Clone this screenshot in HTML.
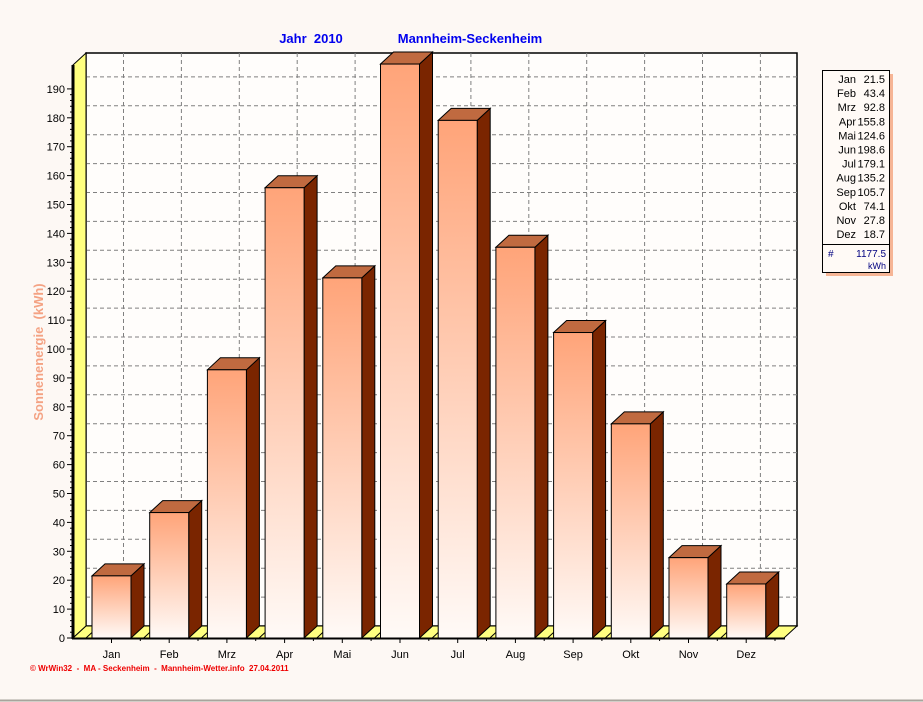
<!DOCTYPE html>
<html><head><meta charset="utf-8"><style>
html,body{margin:0;padding:0;background:#fdf8f4;}
svg{display:block;font-family:"Liberation Sans",sans-serif;}
text{white-space:pre;}
</style></head><body>
<svg id="s" width="923" height="702" xmlns="http://www.w3.org/2000/svg">
<defs>
<linearGradient id="g" x1="0" y1="0" x2="0" y2="1">
<stop offset="0" stop-color="#ffa479"/><stop offset="1" stop-color="#fffaf7"/>
</linearGradient>
</defs>
<rect x="0" y="0" width="923" height="702" fill="#fdf8f4"/>
<line x1="0" y1="700.5" x2="923" y2="700.5" stroke="#a8a49c" stroke-width="2"/>
<text x="311" y="43" font-size="13" font-weight="bold" fill="#0000ee" text-anchor="middle">Jahr  2010</text>
<text x="470" y="43" font-size="13" font-weight="bold" fill="#0000ee" text-anchor="middle">Mannheim-Seckenheim</text>
<text transform="translate(43,352) rotate(-90)" font-size="13" font-weight="bold" fill="#f4a283" text-anchor="middle">Sonnenenergie  (kWh)</text>
<text x="30" y="671" font-size="8" fill="#ee0000" font-weight="bold">© WrWin32  -  MA - Seckenheim  -  Mannheim-Wetter.info  27.04.2011</text>
<g id="plot"></g>
<rect x="826" y="74" width="67" height="202" fill="#f6b595"/>
<rect x="822.5" y="70.5" width="67" height="202" fill="#fffaf6" stroke="#000"/>
<line x1="822" y1="244.5" x2="890" y2="244.5" stroke="#000"/>
<g id="leg" font-size="11" fill="#000"></g>
<text x="828" y="257" font-size="10" fill="#000080">#</text>
<text x="886" y="257" font-size="10" fill="#000080" text-anchor="end">1177.5</text>
<text x="886" y="269" font-size="9" fill="#000080" text-anchor="end">kWh</text>
</svg>
<script>
var p=document.getElementById('plot'),h='';
var m=['Jan','Feb','Mrz','Apr','Mai','Jun','Jul','Aug','Sep','Okt','Nov','Dez'];
var v=[21.5,43.4,92.8,155.8,124.6,198.6,179.1,135.2,105.7,74.1,27.8,18.7];
var y0=638,k=2.89,dx=13,dy=12;
h+='<rect x="86" y="53" width="711" height="573" fill="#fffdfb" stroke="#000" stroke-width="1.5"/>';
for(var i=1;i<=19;i++){var y=y0-dy-i*10*k;h+='<line x1="86" y1="'+y+'" x2="797" y2="'+y+'" stroke="#808080" stroke-dasharray="4,3"/>';}
for(var j=0;j<12;j++){var cx=123.5+j*57.9;h+='<line x1="'+cx+'" y1="53" x2="'+cx+'" y2="626" stroke="#808080" stroke-dasharray="4,3"/>';}
h+='<polygon points="73,65 86,53 86,626 73,638" fill="#ffff80" stroke="#000"/>';
h+='<polygon points="73,638 86,626 797,626 784,638" fill="#ffff80" stroke="#000"/>';
for(var j=0;j<12;j++){var c=111.5+j*57.7,l=c-19.5;h+='<line x1="'+(l-6)+'" y1="638" x2="'+(l+7)+'" y2="626" stroke="#000"/>';}
h+='<line x1="73" y1="65" x2="73" y2="639" stroke="#000" stroke-width="3"/>';
h+='<line x1="72" y1="638.5" x2="785" y2="638.5" stroke="#000" stroke-width="2"/>';
for(var i=0;i<=19;i++){var y=y0-i*10*k;h+='<line x1="67" y1="'+y+'" x2="73" y2="'+y+'" stroke="#000"/>';h+='<text x="65" y="'+(y+4)+'" font-size="11" text-anchor="end">'+(i*10)+'</text>';
if(i<19){for(var q=1;q<5;q++){var yy=y-q*2*k;h+='<line x1="70" y1="'+yy+'" x2="73" y2="'+yy+'" stroke="#000"/>';}}}
for(var j=0;j<12;j++){var c=111.5+j*57.7,l=c-19.5,r=c+19.5,t=y0-v[j]*k;
h+='<polygon points="'+r+','+t+' '+(r+dx)+','+(t-dy)+' '+(r+dx)+','+(y0-dy)+' '+r+','+y0+'" fill="#7a2500" stroke="#000"/>';
h+='<polygon points="'+l+','+t+' '+(l+dx)+','+(t-dy)+' '+(r+dx)+','+(t-dy)+' '+r+','+t+'" fill="#c06a40" stroke="#000"/>';
h+='<rect x="'+l+'" y="'+t+'" width="39" height="'+(y0-t)+'" fill="url(#g)" stroke="#000"/>';
h+='<line x1="'+c+'" y1="638" x2="'+c+'" y2="643" stroke="#000"/>';
h+='<line x1="'+(c+28.8)+'" y1="638" x2="'+(c+28.8)+'" y2="641" stroke="#000"/>';
h+='<text x="'+c+'" y="658" font-size="11" text-anchor="middle">'+m[j]+'</text>';}
p.innerHTML=h;
var L='';for(var j=0;j<12;j++){var y=83+j*14.1;L+='<text x="856" y="'+y+'" text-anchor="end">'+m[j]+'</text><text x="885" y="'+y+'" text-anchor="end">'+v[j].toFixed(1)+'</text>';}
document.getElementById('leg').innerHTML=L;
</script>
</body></html>
